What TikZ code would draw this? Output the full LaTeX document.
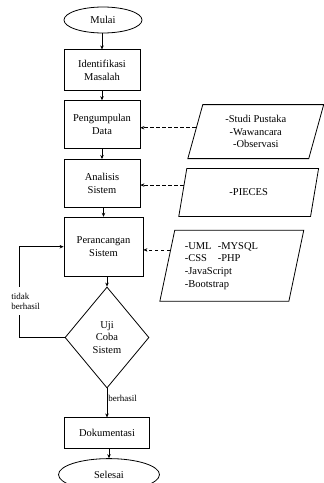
\documentclass[tikz,border=0pt]{standalone}
\usepackage{fontspec}
\setmainfont{Liberation Serif}
\usetikzlibrary{arrows.meta, positioning, shapes.geometric, calc}

\begin{document}
\begin{tikzpicture}[
    font=\fontsize{10.5}{12.7}\selectfont,
    box/.style={draw, line width=0.8pt, minimum width=76pt, minimum height=48pt, align=center, inner sep=2pt},
    term/.style={draw, line width=0.8pt, ellipse, inner sep=0pt},
    dec/.style={draw, line width=0.8pt, diamond, inner sep=0pt, minimum width=84pt, minimum height=101pt, align=center},
    data/.style={draw, line width=0.8pt, trapezium, trapezium left angle=76, trapezium right angle=104, trapezium stretches=true, inner sep=2pt},
    arr/.style={-{Stealth[length=4pt, width=3.5pt]}, line width=0.7pt},
    dasharr/.style={arr, dash pattern=on 3.5pt off 2.5pt},
    lbl/.style={font=\fontsize{9}{10}\selectfont, inner sep=1pt}
]
\useasboundingbox (0,0) rectangle (324pt,-483pt);
\node[term, minimum width=78pt, minimum height=26pt] (mulai) at (103pt,-20pt) {Mulai};
\node[box, below=16pt of mulai, xshift=-1pt, minimum height=41pt] (ident) {Identifikasi\\Masalah};
\node[box, below=9pt of ident] (kumpul) {Pengumpulan\\Data};
\node[box, below=10pt of kumpul] (analisis) {Analisis\\Sistem};
\node[box, below=9pt of analisis, xshift=1.5pt, minimum width=79pt, minimum height=59pt] (rancang) {Perancangan\\Sistem};
\node[dec, below=10pt of rancang, xshift=3.5pt] (uji) {Uji\\Coba\\Sistem};
\node[box, below=29pt of uji, minimum width=85pt, minimum height=31pt] (dok) {Dokumentasi};
\node[term, below=9pt of dok, xshift=2pt, minimum width=101pt, minimum height=32pt] (selesai) {Selesai};
% data masukan
\node[data, minimum width=136pt, minimum height=54pt, right=54.5pt of kumpul, yshift=-7pt, align=center] (pustaka) {-Studi Pustaka\\-Wawancara\\-Observasi};
\node[data, minimum width=140pt, minimum height=48pt, right=42pt of analisis, yshift=-9pt] (pieces) {-PIECES};
\node[data, minimum width=144pt, minimum height=71pt, right=23.5pt of rancang, yshift=-19pt, text width=94pt, align=left] (tools) {\makebox[33pt][l]{-UML}-MYSQL\\\makebox[33pt][l]{-CSS}-PHP\\-JavaScript\\-Bootstrap};
\foreach \x/\y in {mulai/ident, ident/kumpul, kumpul/analisis, analisis/rancang, rancang/uji, dok/selesai} \draw[arr] (\x.south -| \y.north) -- (\y.north);
\foreach \p/\b/\t in {pustaka/kumpul/0.43, pieces/analisis/0.35, tools/rancang/0.28} \draw[dasharr] ($(\p.top left corner)!\t!(\p.bottom left corner)$) coordinate (s) -- (s -| \b.east);
\draw[arr] (uji.south) -- node[lbl, right, pos=0.35] {berhasil} (dok.north);
\draw[arr] (uji.west) -- ++(-45pt,0) |- node[lbl, pos=0.2, fill=white, align=left, xshift=6pt, inner ysep=6pt] {tidak\\berhasil} (rancang.west);
\end{tikzpicture}
\end{document}
